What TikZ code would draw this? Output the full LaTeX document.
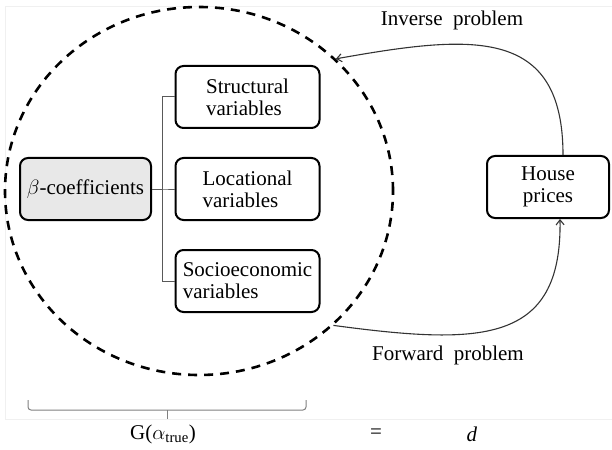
\documentclass[tikz,border=0pt]{standalone}
\usepackage{fontspec}
\setmainfont[WordSpace=2]{Liberation Serif}
\usetikzlibrary{shapes.geometric,arrows.meta}

\begin{document}
\begin{tikzpicture}[
    x=1pt, y=-1pt,
    every node/.style={font=\fontsize{21}{22}\selectfont},
    grow'=right,
    level distance=162pt,
    sibling distance=92pt,
    box/.style={draw, line width=2pt, rounded corners=8pt, minimum height=62pt},
    coefbox/.style={box, fill=gray!18, minimum width=131pt},
    varbox/.style={box, minimum width=144pt, align=left},
    edge from parent/.style={draw=black!65, line width=1pt},
    edge from parent path={(\tikzparentnode.east) -- ++(10pt,0) |- (\tikzchildnode.west)},
    link/.style={draw=black!80, line width=1.1pt, -{Straight Barb[length=5pt,width=8pt]}},
    bracket/.style={draw=black!50, line width=1pt, rounded corners=3pt}
]
\useasboundingbox (0,0) rectangle (612,449);
\draw[gray!12] (612,6) -- (5,6) -- (5,419) -- (612,419);

% the model
\node[draw, ellipse, line width=2.6pt, dash pattern=on 9pt off 7pt,
      minimum width=388pt, minimum height=368pt, inner sep=0] (model) at (199,191) {};

\node[coefbox] (beta) at (85.5,189) {$\beta$-coefficients}
    child {node[varbox] (struct) {Structural\\variables}}
    child {node[varbox] (loc) {Locational\\variables}}
    child {node[varbox] (socio) {Socioeconomic\\variables}};

\node[box, minimum width=122pt, align=center] (house) at (548,187) {House\\prices};

% the two problems
\draw[link] ([xshift=15pt]house.north) .. controls (563,25) and (470,35) .. (model.44);
\draw[link] (model.-45) .. controls (480,345) and (562,345) .. ([xshift=12pt]house.south);
\node (inv) at (452,20) {Inverse problem};
\node (fwd) at (448,355) {Forward problem};

% G(alpha) = d
\draw[bracket] (28,400) |- (306,410) -- (306,400);
\draw[bracket] (167,410) -- (167,419);
\node (gtrue) at (163,434) {G($\alpha$\textsubscript{true})};
\node (eq) at (376,434) {=};
\node (dval) at (472,434) {\textit{d}};
\end{tikzpicture}
\end{document}
